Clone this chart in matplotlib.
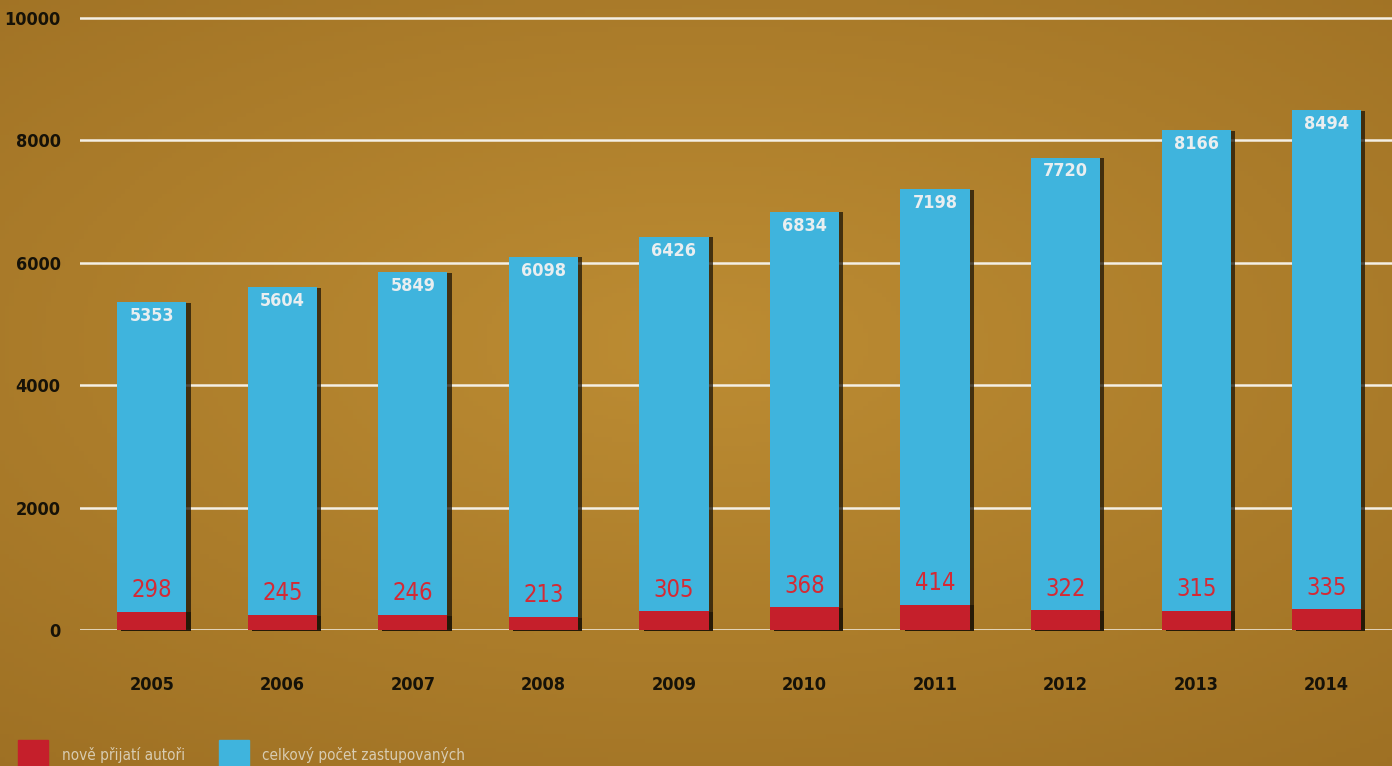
import numpy as np
import matplotlib
matplotlib.use("Agg")
import matplotlib.pyplot as plt
import matplotlib.patheffects as pe
from matplotlib.patches import Rectangle

# data
years = ["2005", "2006", "2007", "2008", "2009", "2010", "2011", "2012", "2013", "2014"]
celkem = [5353, 5604, 5849, 6098, 6426, 6834, 7198, 7720, 8166, 8494]
nove = [298, 245, 246, 213, 305, 368, 414, 322, 315, 335]
yticks = [0, 2000, 4000, 6000, 8000, 10000]

FONT = ["DejaVu Sans"]
BLUE = "#3fb4dd"
RED = "#c51f2b"
TEXT_DARK = "#161208"

fig = plt.figure(figsize=(13.92, 7.66), dpi=100)

# pozadi - papirova hneda s tmavsimi okraji
bg = fig.add_axes([0, 0, 1, 1], zorder=-10)
xx, yy = np.meshgrid(np.linspace(-1, 1, 300), np.linspace(-1, 1, 170))
r = np.sqrt((xx * 0.8) ** 2 + ((yy - 0.1) * 0.9) ** 2)
light = np.array([0.74, 0.55, 0.20])
dark = np.array([0.62, 0.44, 0.14])
t = np.clip(r / 1.3, 0, 1)[..., None]
img = light * (1 - t) + dark * t
bg.imshow(img, aspect="auto", extent=[0, 1, 0, 1], origin="lower")
bg.axis("off")

ax = fig.add_axes([80 / 1392, 136 / 766, 1 - 80 / 1392, 630 / 766])
ax.patch.set_alpha(0)
x = np.arange(len(years))
ax.set_xlim(-0.55, 9.5)
ax.set_ylim(0, 10294)

for y in yticks:
    ax.axhline(y, color="#f4efe4", lw=1.8, zorder=1)

shadow = [pe.SimplePatchShadow(offset=(3, -0.5), shadow_rgbFace="#1e1405", alpha=0.75), pe.Normal()]
w = 0.53
blue_bars = ax.bar(x, celkem, width=w, color=BLUE, zorder=3, clip_on=False)
red_bars = ax.bar(x, nove, width=w, color=RED, zorder=4, clip_on=False)
for b in list(blue_bars) + list(red_bars):
    b.set_path_effects(shadow)

for xi, c, n in zip(x, celkem, nove):
    ax.annotate(str(c), (xi, c), xytext=(0, -10), textcoords="offset points",
                ha="center", va="center", fontsize=13, fontweight="bold",
                fontstretch="condensed", color="#e9eef0", family=FONT, zorder=5)
    ax.annotate(str(n), (xi, n), xytext=(0, 7), textcoords="offset points",
                ha="center", va="bottom", fontsize=17, fontstretch="condensed",
                color="#d42a35", family=FONT, zorder=5)

ax.set_yticks(yticks)
ax.set_yticklabels([str(v) for v in yticks], fontsize=13, fontweight="bold",
                   fontstretch="condensed", color=TEXT_DARK, family=FONT)
ax.set_xticks(x)
ax.set_xticklabels(years, fontsize=13, fontweight="bold", fontstretch="condensed",
                   color=TEXT_DARK, family=FONT)
ax.tick_params(axis="y", length=0, pad=14)
ax.tick_params(axis="x", length=0, pad=33)
for s in ax.spines.values():
    s.set_visible(False)

# legenda
leg = [(RED, "nově přijatí autoři", 18, 62), (BLUE, "celkový počet zastupovaných", 219, 262)]
for col, lab, px, tx in leg:
    fig.patches.append(Rectangle((px / 1392, 0), 30 / 1392, 26 / 766,
                                 transform=fig.transFigure, color=col))
    fig.text(tx / 1392, 11 / 766, lab, fontsize=11, color="#d8ccb2",
             fontstretch="condensed", family=FONT, va="center", ha="left")

fig.savefig("out.png", dpi=100)
